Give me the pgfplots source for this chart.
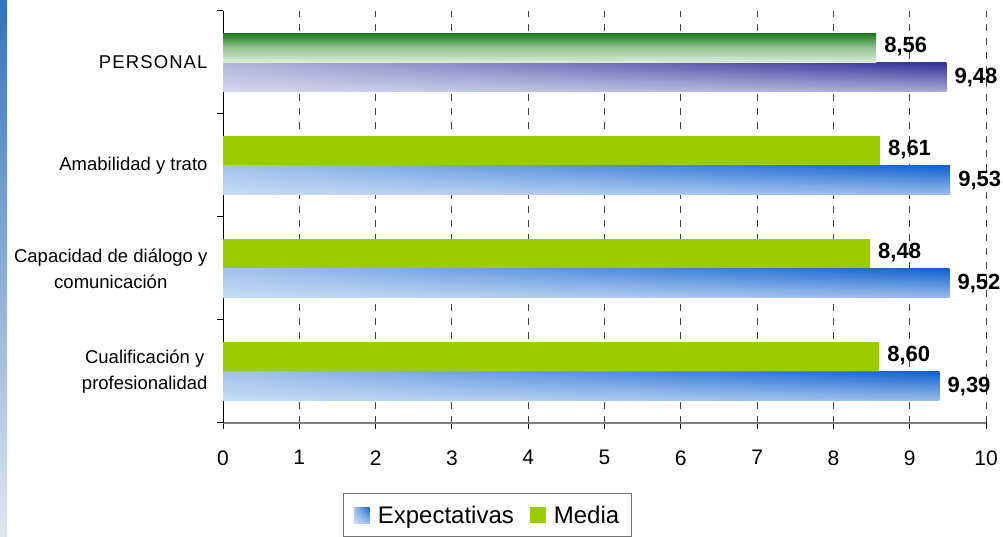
\documentclass[border=0pt]{standalone}
\usepackage{pgfplots}
\pgfplotsset{compat=1.18}
\usepackage{fontspec}
\setmainfont{Liberation Sans}

% bar colours
\definecolor{mediagreen}{RGB}{155,204,0}
\definecolor{persgreen}{RGB}{22,120,22}
\definecolor{persgreenmid}{RGB}{150,196,150}
\definecolor{persgreenlight}{RGB}{218,238,218}
\definecolor{stripdark}{RGB}{52,116,185}
\definecolor{striplight}{RGB}{224,230,241}

% Diagonal two-way gradients: darkest at the top right, lightest at the bottom left.
% u, v run from 0 to 1 across the bar; weight w = v(0.2+0.8u) + 0.25u(1-v).
\pgfdeclarefunctionalshading{expgrad}{\pgfpoint{0bp}{0bp}}{\pgfpoint{100bp}{100bp}}{}{
  25 sub 50 div dup 0 lt {pop 0} if dup 1 gt {pop 1} if
  exch 25 sub 50 div dup 0 lt {pop 0} if dup 1 gt {pop 1} if
  2 copy 0.8 mul 0.2 add mul
  3 1 roll exch 1 exch sub mul 0.25 mul add
  dup -0.721 mul 0.784 add exch
  dup -0.487 mul 0.863 add exch
  -0.141 mul 0.957 add
}
\pgfdeclarefunctionalshading{persgrad}{\pgfpoint{0bp}{0bp}}{\pgfpoint{100bp}{100bp}}{}{
  25 sub 50 div dup 0 lt {pop 0} if dup 1 gt {pop 1} if
  exch 25 sub 50 div dup 0 lt {pop 0} if dup 1 gt {pop 1} if
  2 copy 0.8 mul 0.2 add mul
  3 1 roll exch 1 exch sub mul 0.25 mul add
  dup -0.651 mul 0.839 add exch
  dup -0.651 mul 0.839 add exch
  -0.337 mul 0.933 add
}

\pgfplotsset{
  valuelabel/.style={
    nodes near coords={\pgfmathprintnumber[fixed,fixed zerofill,precision=2,use comma]{\pgfplotspointmeta}},
    every node near coord/.append style={font=\bfseries\fontsize{22}{26}\selectfont,
      anchor=west, black, inner sep=4pt, xshift=4pt, yshift=#1},
  },
  % one plot per shaded bar, so that each bar carries its own gradient
  expbar/.style={xbar, bar shift=-0.143, draw=none, shading=expgrad, valuelabel=-14.7pt},
}

\begin{document}
\begin{tikzpicture}
\useasboundingbox (0,0) rectangle (1003pt,537pt);
% decorative strip along the left edge
\shade[top color=stripdark, bottom color=striplight] (0,0) rectangle (7pt,537pt);
\begin{axis}[
  at={(223pt,114pt)}, anchor=south west,
  scale only axis, width=763pt, height=412pt,
  xmin=0, xmax=10, ymin=-0.5, ymax=3.5,
  axis x line*=bottom, axis y line*=left,
  x axis line style={draw=black!50, line width=2pt},
  y axis line style={draw=black, line width=1pt},
  tick align=outside,
  major tick length=6pt, minor tick length=6pt,
  xtick={0,...,10},
  major x tick style={draw=black, line width=1pt},
  ytick={0,1,2,3},
  minor ytick={-0.5,0.5,1.5,2.5,3.5},
  major y tick style={draw=none},
  minor y tick style={draw=black, line width=1pt},
  yticklabels={{Cualificación y\\profesionalidad},
               {Capacidad de diálogo y\\comunicación},
               {Amabilidad y trato},
               {\addfontfeature{LetterSpace=6}PERSONAL}},
  yticklabel style={align=center, font=\fontsize{18.5}{26}\selectfont, xshift=-6pt},
  xticklabel style={font=\fontsize{21}{25}\selectfont, yshift=-18pt},
  /pgf/number format/assume math mode=true,
  xmajorgrids,
  major grid style={draw=black!75, line width=0.9pt, dash pattern=on 7pt off 7pt},
  bar width=0.286,
  point meta=x,
  legend columns=2,
  legend style={at={(0.3467,-0.170)}, anchor=north, draw=black!55, line width=1.3pt,
    font=\fontsize{24}{28}\selectfont, inner xsep=10pt, inner ysep=10pt,
    /tikz/every odd column/.append style={column sep=6pt},
    /tikz/every even column/.append style={column sep=14pt}},
  legend image code/.code={\path[#1, draw=none] (0pt,-8pt) rectangle (16pt,8pt);},
]
% Expectativas
\addplot[expbar] coordinates {(9.39,0)};
\addlegendentry{Expectativas}
% Media
\addplot[xbar, bar shift=0.143, draw=none, fill=mediagreen, valuelabel=15.5pt]
  coordinates {(8.60,0) (8.48,1) (8.61,2)};
\addlegendentry{Media}
\addplot[expbar, forget plot] coordinates {(9.52,1)};
\addplot[expbar, forget plot] coordinates {(9.53,2)};
% PERSONAL
\addplot[xbar, bar shift=-0.143, draw=none, forget plot, shading=persgrad,
  valuelabel=-14.7pt]
  coordinates {(9.48,3)};
\addplot[xbar, bar shift=0.143, draw=none, forget plot,
  top color=persgreen, bottom color=persgreenlight, middle color=persgreenmid,
  valuelabel=15.5pt]
  coordinates {(8.56,3)};
\end{axis}
\end{tikzpicture}
\end{document}
